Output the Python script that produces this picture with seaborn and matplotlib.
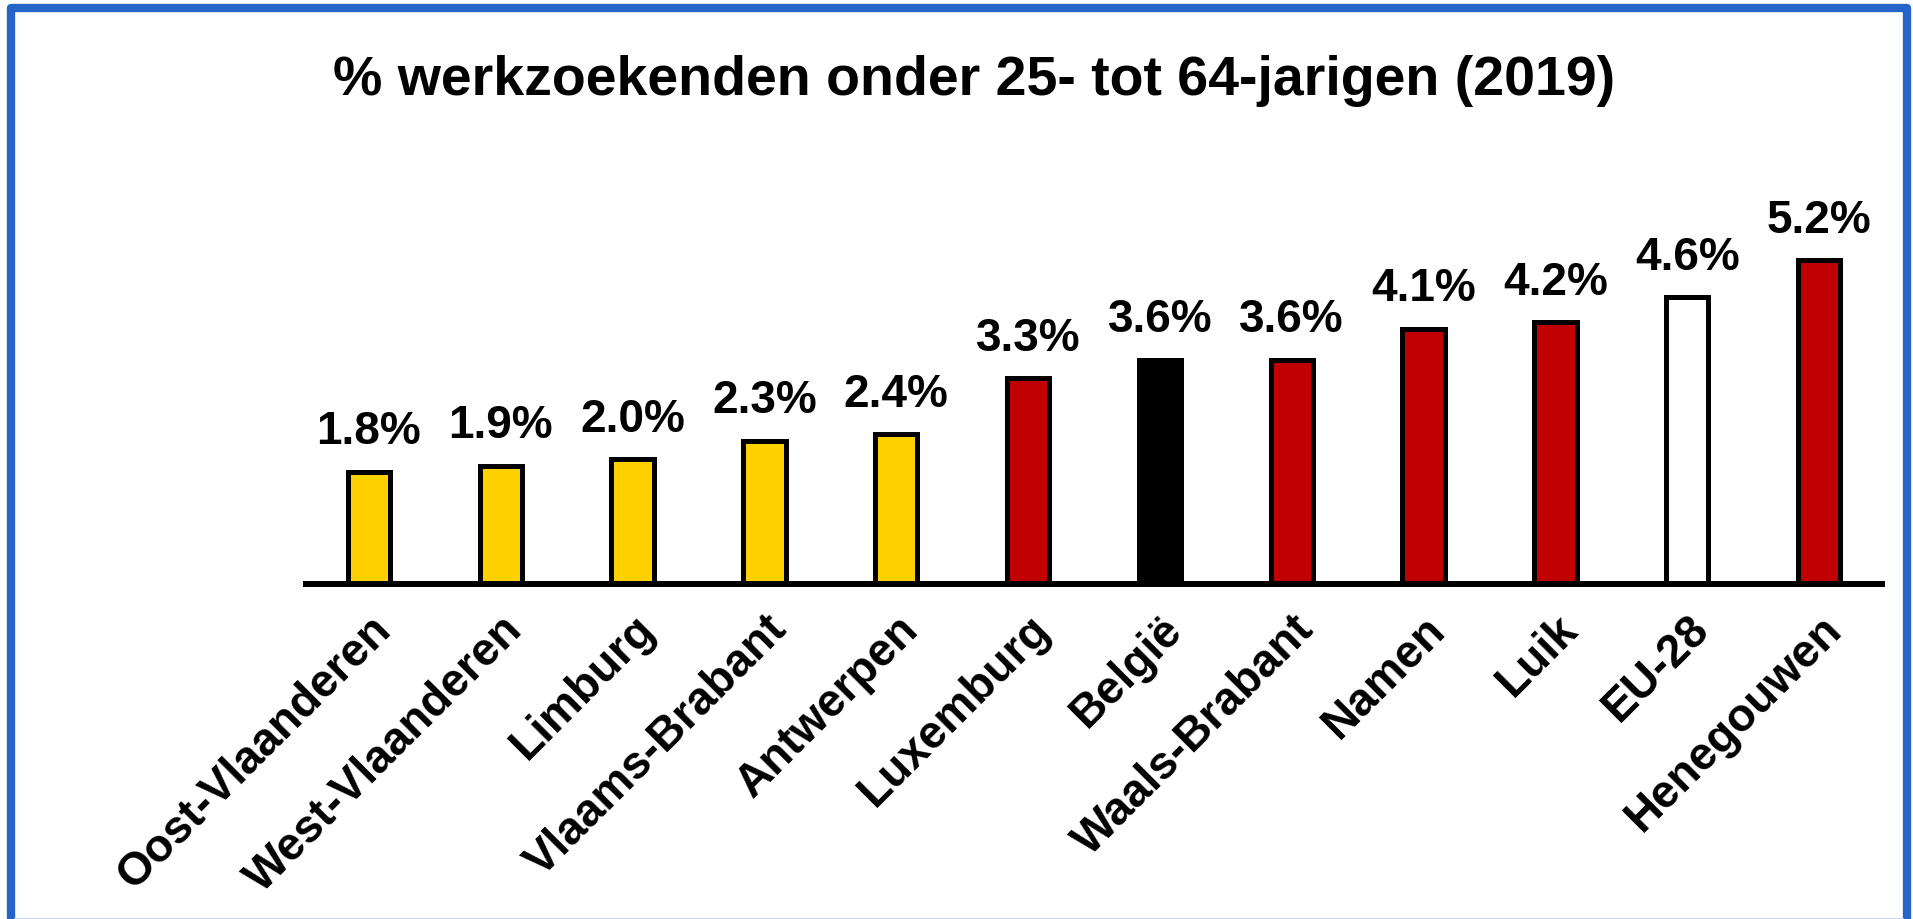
import matplotlib
matplotlib.use("Agg")
import matplotlib.pyplot as plt
from matplotlib.lines import Line2D
import seaborn as sns
import pandas as pd

categories = ["Oost-Vlaanderen", "West-Vlaanderen", "Limburg", "Vlaams-Brabant",
              "Antwerpen", "Luxemburg", "België", "Waals-Brabant", "Namen",
              "Luik", "EU-28", "Henegouwen"]
values = [1.8, 1.9, 2.0, 2.3, 2.4, 3.3, 3.6, 3.6, 4.1, 4.2, 4.6, 5.2]
bar_colors = ["#FFD000"] * 5 + ["#C00000", "#000000", "#C00000", "#C00000",
                                "#C00000", "#FFFFFF", "#C00000"]
title = "% werkzoekenden onder 25- tot 64-jarigen (2019)"

sns.set_theme(style="white")
plt.rcParams["font.family"] = ["Liberation Sans", "DejaVu Sans"]
plt.rcParams["font.weight"] = "bold"

W, H = 1913, 920
fig = plt.figure(figsize=(W / 100, H / 100), dpi=100)
fig.patch.set_facecolor("white")

ax_left, ax_right, base_y = 303, 1885, 585
px_per_unit = 62.3
ymax = 5.6
ax = fig.add_axes([ax_left / W, (H - base_y) / H,
                   (ax_right - ax_left) / W, ymax * px_per_unit / H])

df = pd.DataFrame({"cat": categories, "val": values})
sns.barplot(data=df, x="cat", y="val", hue="cat", palette=bar_colors,
            edgecolor="black", linewidth=3.6, width=0.32, legend=False,
            saturation=1, ax=ax)

for i, v in enumerate(values):
    ax.annotate(f"{v:.1f}%", xy=(i, v), xytext=(0, 20.5),
                textcoords="offset points", ha="center", va="baseline",
                fontsize=33, fontweight="bold", color="black")

ax.set_xlim(-0.5, len(categories) - 0.5)
ax.set_ylim(0, ymax)
ax.set_xlabel("")
ax.set_ylabel("")
ax.set_yticks([])
for s in ["top", "right", "left"]:
    ax.spines[s].set_visible(False)
ax.spines["bottom"].set_linewidth(4.3)
ax.spines["bottom"].set_color("black")
ax.spines["bottom"].set_capstyle("butt")
ax.tick_params(axis="x", length=0, pad=16)
ax.set_xticks(range(len(categories)))
ax.set_xticklabels(categories, rotation=45, ha="right", rotation_mode="anchor",
                   fontsize=33, fontweight="bold", color="black")
ax.patch.set_alpha(0)

fig.text(974 / W, (H - 95) / H, title, ha="center", va="baseline",
         fontsize=40, fontweight="bold", color="black")

# blue frame around the chart (left, top, right), faint line at bottom
blue = "#2565C9"
fig.add_artist(Line2D([11 / W, 11 / W, 1907 / W, 1907 / W],
                      [0, (H - 9) / H, (H - 9) / H, 0],
                      transform=fig.transFigure, color=blue, lw=6,
                      solid_joinstyle="round"))
fig.add_artist(Line2D([15 / W, 1903 / W], [0.5 / H, 0.5 / H],
                      transform=fig.transFigure, color="#C8D4E8", lw=1.5))

fig.savefig("out.png", dpi=100, facecolor="white")
